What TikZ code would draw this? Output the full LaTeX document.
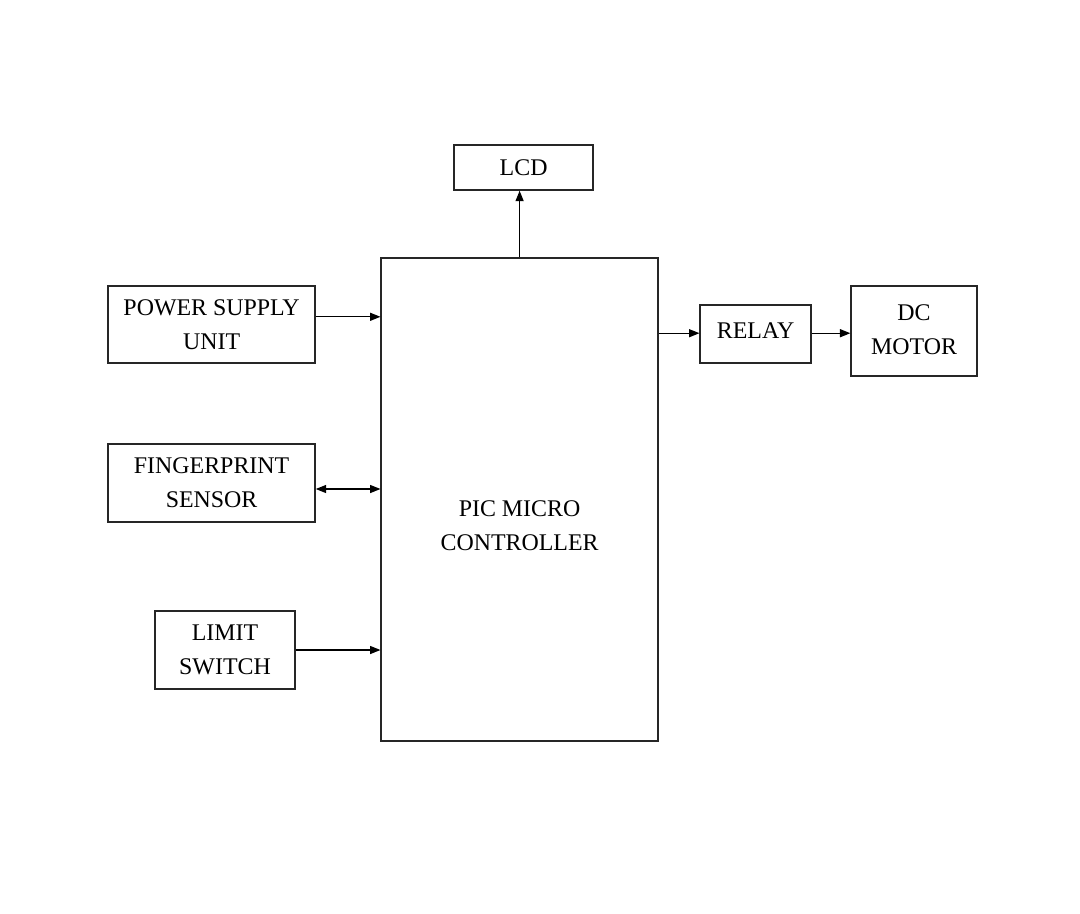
\documentclass[tikz,border=0pt]{standalone}
\usepackage{fontspec}
\setmainfont{Liberation Serif}
\usetikzlibrary{arrows.meta}

\begin{document}
\begin{tikzpicture}[
    box/.style={rectangle, draw=black!85, line width=0.9pt, inner sep=0pt, align=center, font=\fontsize{17}{24}\selectfont},
    arrow/.style={-{Triangle[length=0.26cm, width=0.2cm]}, line width=0.9pt},
    biarrow/.style={{Triangle[length=0.26cm, width=0.2cm]}-{Triangle[length=0.26cm, width=0.2cm]}, line width=0.9pt}
]
\useasboundingbox (0,0) rectangle (27,-22.825);

% LCD
\node[box, minimum width=3.475cm, minimum height=1.125cm] (lcd) at (13.09,-4.19) {LCD};

% PIC Microcontroller
\node[box, minimum width=6.925cm, minimum height=12.075cm] (pic) at (12.99,-12.49) {};
\node[align=center, font=\fontsize{17}{24}\selectfont] (pictext) at (12.99,-13.15) {PIC MICRO\\CONTROLLER};

% Inputs
\node[box, minimum width=5.175cm, minimum height=1.925cm] (power) at (5.29,-8.11) {POWER SUPPLY\\UNIT};
\node[box, minimum width=5.175cm, minimum height=1.95cm] (finger) at (5.29,-12.075) {FINGERPRINT\\SENSOR};
\node[box, minimum width=3.5cm, minimum height=1.95cm] (limit) at (5.625,-16.25) {LIMIT\\SWITCH};

% Outputs
\node[box, minimum width=2.775cm, minimum height=1.45cm] (relay) at (18.89,-8.35) {\raisebox{0.15cm}{RELAY}};
\node[box, minimum width=3.15cm, minimum height=2.25cm] (motor) at (22.85,-8.275) {\raisebox{0.12cm}{\begin{tabular}{@{}c@{}}DC\\MOTOR\end{tabular}}};

% Arrows
\draw[arrow] ([yshift=0.19cm]power.east) -- ([yshift=0.19cm]power.east -| pic.west);
\draw[biarrow] ([yshift=-0.15cm]finger.east) -- ([yshift=-0.15cm]finger.east -| pic.west);
\draw[arrow] (limit.east) -- (limit -| pic.west);
\draw[arrow] (pic.north) -- (pic.north |- lcd.south);
\draw[arrow] ([yshift=0.02cm]pic.east |- relay.west) -- ([yshift=0.02cm]relay.west);
\draw[arrow] ([yshift=0.02cm]relay.east) -- ([yshift=0.02cm]relay.east -| motor.west);

\end{tikzpicture}
\end{document}
